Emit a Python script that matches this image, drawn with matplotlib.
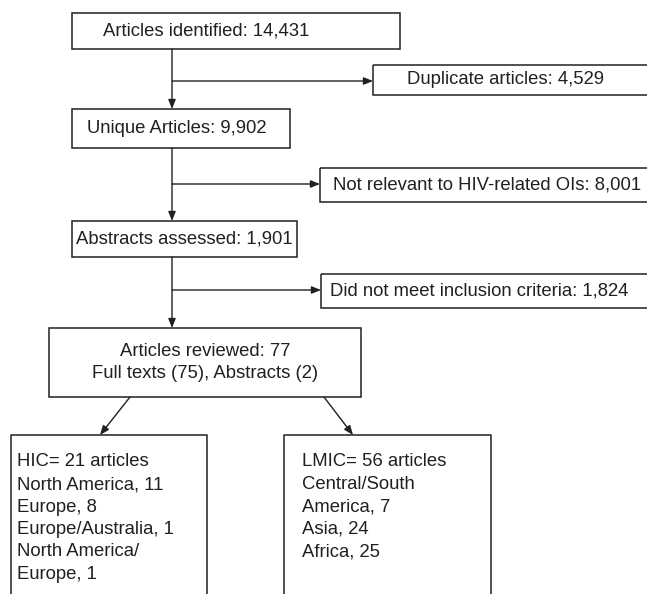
import matplotlib.pyplot as plt
from matplotlib.patches import Rectangle

plt.rcParams['font.family'] = ['Liberation Sans', 'DejaVu Sans']

# flow counts
main_labels = ['Articles identified', 'Unique Articles', 'Abstracts assessed']
main_counts = [14431, 9902, 1901]
excl_labels = ['Duplicate articles', 'Not relevant to HIV-related OIs', 'Did not meet inclusion criteria']
excl_counts = [4529, 8001, 1824]
reviewed = 77
full_texts = 75
abstracts = 2
hic_total = 21
hic_regions = ['North America, 11', 'Europe, 8', 'Europe/Australia, 1', 'North America/\nEurope, 1']
lmic_total = 56
lmic_regions = ['Central/South\nAmerica, 7', 'Asia, 24', 'Africa, 25']

ink = '#231f20'
fs = 13.3

fig = plt.figure(figsize=(6.47, 5.94), dpi=100)
ax = fig.add_axes([0, 0, 1, 1])
ax.set_xlim(0, 647)
ax.set_ylim(594, 0)
ax.axis('off')


def box(x0, y0, x1, y1):
    ax.add_patch(Rectangle((x0, y0), x1 - x0, y1 - y0, fill=False,
                           edgecolor=ink, linewidth=1.1, clip_on=False))


def arrow(x0, y0, x1, y1):
    ax.annotate('', xy=(x1, y1), xytext=(x0, y0),
                arrowprops=dict(arrowstyle='-|>,head_length=0.55,head_width=0.22',
                                color=ink, lw=1.0, shrinkA=0, shrinkB=0))


# main column boxes: (x0, y0, x1, y1, text x)
main_boxes = [(72, 13, 400, 49, 103), (72, 109, 290, 148, 87), (72, 221, 297, 257, 76)]
for (x0, y0, x1, y1, tx), lab, n in zip(main_boxes, main_labels, main_counts):
    box(x0, y0, x1, y1)
    ax.text(tx, (y0 + y1) / 2, f'{lab}: {n:,}', fontsize=fs, color=ink,
            ha='left', va='center')

# exclusion boxes on the right (run off the edge)
excl_boxes = [(373, 65, 700, 95, 407), (320, 168, 700, 202, 333), (321, 274, 700, 308, 330)]
branch_y = [81, 184, 290]
for (x0, y0, x1, y1, tx), lab, n, by in zip(excl_boxes, excl_labels, excl_counts, branch_y):
    box(x0, y0, x1, y1)
    ax.text(tx, (y0 + y1) / 2, f'{lab}: {n:,}', fontsize=fs, color=ink,
            ha='left', va='center')
    arrow(172, by, x0, by)

# vertical flow
arrow(172, 49, 172, 109)
arrow(172, 148, 172, 221)
arrow(172, 257, 172, 328)

# reviewed box
box(49, 328, 361, 397)
ax.text(205, 352, f'Articles reviewed: {reviewed}', fontsize=fs, color=ink,
        ha='center', va='center')
ax.text(205, 373, f'Full texts ({full_texts}), Abstracts ({abstracts})', fontsize=fs,
        color=ink, ha='center', va='center')

# split
arrow(130, 397, 100, 435)
arrow(324, 397, 353, 435)

line_h = 22.5
hic_lines = [f'HIC= {hic_total} articles'] + '\n'.join(hic_regions).split('\n')
lmic_lines = [f'LMIC= {lmic_total} articles'] + '\n'.join(lmic_regions).split('\n')

ax.plot([11, 11, 207, 207], [600, 435, 435, 600], color=ink, lw=1.1, clip_on=True)
for i, t in enumerate(hic_lines):
    ax.text(17, 462 + i * line_h, t, fontsize=fs, color=ink, ha='left', va='center')

ax.plot([284, 284, 491, 491], [600, 435, 435, 600], color=ink, lw=1.1, clip_on=True)
for i, t in enumerate(lmic_lines):
    ax.text(302, 462 + i * line_h, t, fontsize=fs, color=ink, ha='left', va='center')

fig.savefig('out.png', dpi=100)
